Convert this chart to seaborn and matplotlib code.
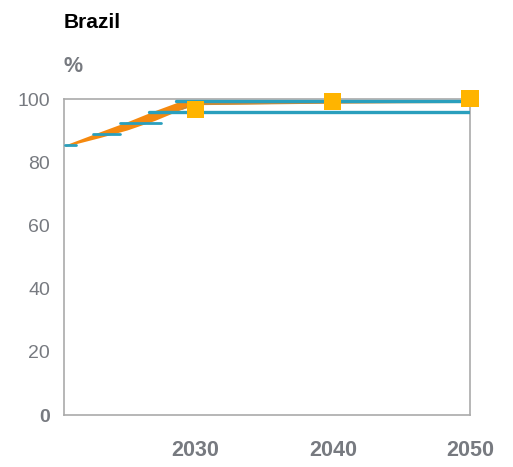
import numpy as np
import pandas as pd
import matplotlib
matplotlib.use("Agg")
import matplotlib.pyplot as plt
import seaborn as sns

# orange band (range of scenarios)
band_years = [2020.5, 2023, 2025, 2027, 2029, 2030, 2040, 2050]
band_low = [85.0, 87.8, 90.2, 93.2, 96.8, 98.3, 98.8, 99.0]
band_high = [85.5, 89.6, 92.8, 96.3, 99.5, 99.6, 99.7, 99.7]

# short teal pathway segments (start year, end year, value)
seg_start = [2020.5, 2022.5, 2024.5, 2026.6, 2028.6]
seg_end = [2021.3, 2024.5, 2027.5, 2050.0, 2050.0]
seg_value = [85.6, 88.9, 92.4, 95.9, 99.3]

# highlighted points
point_years = [2030, 2040, 2050]
point_values = [96.8, 99.1, 100.2]

xtick_years = [2030, 2040, 2050]
ytick_values = [0, 20, 40, 60, 80, 100]

teal = "#2a9fbd"
orange = "#f5890f"
gold = "#ffb400"
grey_txt = "#777a80"

sns.set_style("white")
plt.rcParams["font.family"] = ["Liberation Sans", "DejaVu Sans"]

fig = plt.figure(figsize=(5.13, 4.67), dpi=100)
ax = fig.add_axes([64 / 513, 1 - 415 / 467, 406 / 513, 316 / 467])

ax.fill_between(band_years, band_low, band_high, color=orange, lw=0, zorder=2)
ax.plot(band_years[4:], band_low[4:], color="#c98a3a", lw=1.2, zorder=2)

for i in range(len(seg_value)):
    seg = pd.DataFrame({"year": [seg_start[i], seg_end[i]],
                        "value": [seg_value[i], seg_value[i]]})
    lw = 2.4 if seg_end[i] == 2050 else 2.0
    sns.lineplot(data=seg, x="year", y="value", ax=ax, color=teal,
                 lw=lw, zorder=3)

pts = pd.DataFrame({"year": point_years, "value": point_values})
sns.scatterplot(data=pts, x="year", y="value", ax=ax, marker="s", s=150,
                color=gold, edgecolor="none", zorder=5, clip_on=False)

ax.set_xlim(2020.4, 2050)
ax.set_ylim(0, 100)
ax.set_xticks(xtick_years)
ax.set_xticklabels([str(y) for y in xtick_years], fontweight="bold",
                   fontsize=15.5, color=grey_txt)
ax.set_yticks(ytick_values)
ax.set_yticklabels([str(v) for v in ytick_values], fontsize=14,
                   color=grey_txt)
ax.get_yticklabels()[0].set_fontweight("bold")
ax.tick_params(axis="x", length=0, pad=18)
ax.tick_params(axis="y", length=0, pad=10)
ax.set_xlabel("")
ax.set_ylabel("")
for sp in ax.spines.values():
    sp.set_color("#aaaaaa")
    sp.set_linewidth(1.2)

fig.text(64 / 513, 1 - 22 / 467, "Brazil", fontsize=15, fontweight="bold",
         color="black", va="center", ha="left")
fig.text(64 / 513, 1 - 66 / 467, "%", fontsize=15.5, fontweight="bold",
         color=grey_txt, va="center", ha="left")

fig.savefig("out.png", dpi=100)
